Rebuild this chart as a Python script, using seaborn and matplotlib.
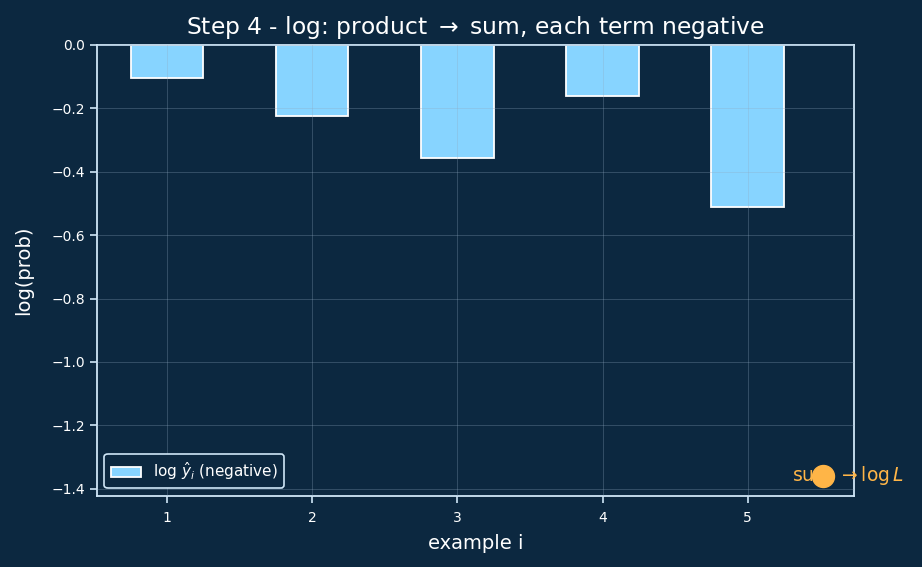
import numpy as np
import pandas as pd
import matplotlib
matplotlib.use("Agg")
import matplotlib.pyplot as plt
import seaborn as sns

examples = [1, 2, 3, 4, 5]
log_probs = [-0.105, -0.223, -0.357, -0.163, -0.511]
total = sum(log_probs)

BG = "#0c2840"
BAR = "#87d4ff"
ORANGE = "#ffb547"
FG = "#ffffff"
SPINE = "#cfe6f7"

sns.set_theme(style="dark")
plt.rcParams['font.family'] = ['DejaVu Sans']

fig = plt.figure(figsize=(9.22, 5.67), dpi=100, facecolor=BG)
ax = fig.add_axes([0.105, 0.125, 0.821, 0.796])
ax.set_facecolor(BG)

df = pd.DataFrame({"example": examples, "logp": log_probs})
sns.barplot(data=df, x="example", y="logp", native_scale=True, width=0.5,
            color=BAR, saturation=1, edgecolor="white", linewidth=1.3,
            label=r"$\log\,\hat{y}_i$ (negative)", ax=ax, zorder=2)

ax.grid(True, color="#8fa8c0", alpha=0.3, linewidth=0.7, zorder=3)
ax.set_axisbelow(False)
for b in ax.patches:
    b.set_zorder(2)

ax.text(5.69, total, r"sum $\to \log L$", color=ORANGE, fontsize=13.5,
        ha="center", va="center", zorder=4, clip_on=False)
ax.scatter([5.52], [total], s=250, color=ORANGE, zorder=5, clip_on=False)

ax.set_xlim(0.518, 5.73)
ax.set_ylim(-1.423, 0)
ax.set_xticks(examples)
ax.set_yticks(np.arange(-1.4, 0.01, 0.2))
ax.tick_params(colors=FG, labelsize=10, length=5, width=1.2, color=SPINE,
               bottom=True, left=True)
ax.tick_params(axis="x", pad=6)
for s in ax.spines.values():
    s.set_color(SPINE)
    s.set_linewidth(1.3)
    s.set_visible(True)

ax.set_title("Step 4 - log: product $\\to$ sum, each term negative", color=FG,
             fontsize=16.8, pad=8)
ax.set_xlabel("example i", color=FG, fontsize=14, labelpad=6)
ax.set_ylabel("log(prob)", color=FG, fontsize=14, labelpad=13)

leg = ax.legend(loc="lower left", facecolor=BG, edgecolor=SPINE, fontsize=11,
                framealpha=1)
leg.get_frame().set_linewidth(1.2)
for t in leg.get_texts():
    t.set_color(FG)

fig.savefig("out.png", dpi=100, facecolor=BG)
